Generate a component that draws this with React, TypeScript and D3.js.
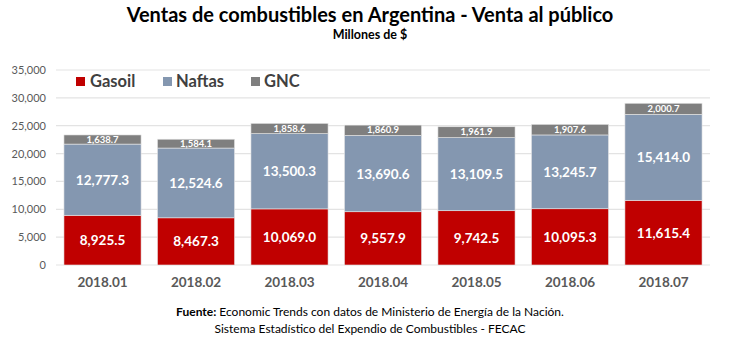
import React from "react";
import * as d3 from "d3";

const categories = ["2018.01", "2018.02", "2018.03", "2018.04", "2018.05", "2018.06", "2018.07"];
const gasoil = [8925.5, 8467.3, 10069.0, 9557.9, 9742.5, 10095.3, 11615.4];
const naftas = [12777.3, 12524.6, 13500.3, 13690.6, 13109.5, 13245.7, 15414.0];
const gnc = [1638.7, 1584.1, 1858.6, 1860.9, 1961.9, 1907.6, 2000.7];
const seriesNames = ["Gasoil", "Naftas", "GNC"];
const seriesColors = ["#C00000", "#8497B0", "#7F7F7F"];
const yTicks = [0, 5000, 10000, 15000, 20000, 25000, 30000, 35000];

const W = 750, H = 340;
const FONT = "Lato, 'Open Sans', sans-serif";

export default function App() {
  const x = d3.scaleBand<string>().domain(categories).range([56, 710]).paddingInner(0.175).paddingOuter(0.085);
  const y = d3.scaleLinear().domain([0, 35000]).range([265, 70]);
  const fmt = d3.format(",.1f");
  const fmtTick = d3.format(",");
  const data = categories.map((c, i) => ({ cat: c, Gasoil: gasoil[i], Naftas: naftas[i], GNC: gnc[i] }));
  const stack = d3.stack<any>().keys(seriesNames)(data);
  const legendPos = [{ sx: 76, tx: 90 }, { sx: 163, tx: 176 }, { sx: 251, tx: 264 }];

  return (
    <svg width={W} height={H} style={{ position: "absolute", left: 0, top: 0, background: "#fff" }} fontFamily={FONT}>
      <text x={370} y={22} textAnchor="middle" fontSize={20} fontWeight="bold" fill="#000">
        Ventas de combustibles en Argentina - Venta al público
      </text>
      <text x={370} y={39} textAnchor="middle" fontSize={12.5} fontWeight="bold" fill="#000">
        Millones de $
      </text>
      {yTicks.map((t) => (
        <g key={t}>
          <line x1={56} x2={710} y1={y(t)} y2={y(t)} stroke="#E3E3E3" strokeWidth={1.2} />
          <text x={46} y={y(t) + 4} textAnchor="end" fontSize={11} fill="#595959">
            {fmtTick(t)}
          </text>
        </g>
      ))}
      {stack.map((s, si) => (
        <g key={seriesNames[si]}>
          {s.map((d, i) => {
            const bx = x(categories[i])!;
            const bw = x.bandwidth();
            const y0 = y(d[0]);
            const y1 = y(d[1]);
            const v = d[1] - d[0];
            const cy = (y0 + y1) / 2;
            const small = si === 2;
            return (
              <g key={i}>
                <rect x={bx} y={y1} width={bw} height={y0 - y1} fill={seriesColors[si]} stroke="#E8E8E8" strokeWidth={0.6} />
                <text x={bx + bw / 2} y={cy + (small ? 3.2 : 5)} textAnchor="middle" fontSize={small ? 9.5 : 13.5} fontWeight="bold" fill="#fff">
                  {fmt(v)}
                </text>
              </g>
            );
          })}
        </g>
      ))}
      {categories.map((c) => (
        <text key={c} x={x(c)! + x.bandwidth() / 2} y={287} textAnchor="middle" fontSize={13.5} fontWeight="bold" fill="#595959">
          {c}
        </text>
      ))}
      {legendPos.map((p, i) => (
        <g key={i}>
          <rect x={p.sx} y={77} width={9} height={9} fill={seriesColors[i]} />
          <text x={p.tx} y={87} fontSize={16.5} fontWeight="bold" fill="#404040">
            {seriesNames[i]}
          </text>
        </g>
      ))}
      <text x={370} y={316} textAnchor="middle" fontSize={12} fill="#000">
        <tspan fontWeight="bold">Fuente:</tspan> Economic Trends con datos de Ministerio de Energía de la Nación.
      </text>
      <text x={370} y={333} textAnchor="middle" fontSize={12} fill="#000">
        Sistema Estadístico del Expendio de Combustibles - FECAC
      </text>
    </svg>
  );
}
